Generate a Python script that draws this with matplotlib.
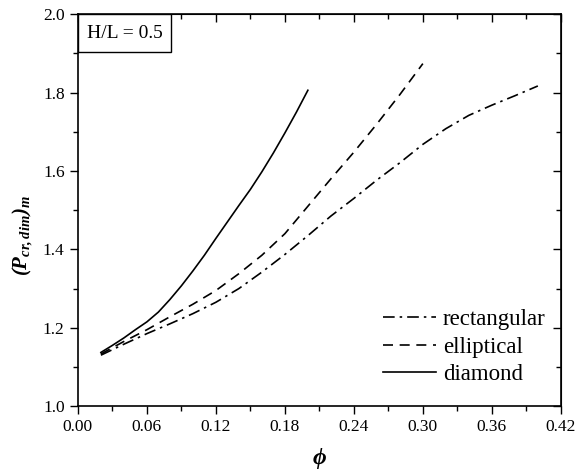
import matplotlib
matplotlib.use("Agg")
import matplotlib.pyplot as plt
from matplotlib.ticker import MultipleLocator, FormatStrFormatter
from matplotlib.patches import Rectangle

plt.rcParams['font.family'] = ['Liberation Serif', 'DejaVu Serif']
plt.rcParams['mathtext.fontset'] = 'custom'
plt.rcParams['mathtext.rm'] = 'Liberation Serif:bold:italic'
plt.rcParams['mathtext.it'] = 'Liberation Serif:bold:italic'
plt.rcParams['mathtext.bf'] = 'Liberation Serif:bold:italic'

rect_x = [0.02, 0.04, 0.06, 0.08, 0.10, 0.12, 0.14, 0.16, 0.18, 0.20,
          0.22, 0.24, 0.26, 0.28, 0.30, 0.32, 0.34, 0.36, 0.38, 0.40]
rect_y = [1.130, 1.158, 1.185, 1.210, 1.236, 1.265, 1.300, 1.342, 1.387, 1.435,
          1.485, 1.530, 1.577, 1.621, 1.668, 1.708, 1.742, 1.768, 1.792, 1.817]

ell_x = [0.02, 0.04, 0.06, 0.08, 0.10, 0.12, 0.14, 0.16, 0.18, 0.20,
         0.22, 0.24, 0.26, 0.28, 0.30]
ell_y = [1.133, 1.165, 1.195, 1.228, 1.260, 1.295, 1.338, 1.385, 1.440, 1.510,
         1.580, 1.648, 1.720, 1.795, 1.874]

dia_x = [0.02, 0.03, 0.04, 0.05, 0.06, 0.07, 0.08, 0.09, 0.10, 0.11,
         0.12, 0.13, 0.14, 0.15, 0.16, 0.17, 0.18, 0.19, 0.20]
dia_y = [1.137, 1.155, 1.174, 1.195, 1.215, 1.240, 1.272, 1.307, 1.345, 1.385,
         1.428, 1.470, 1.512, 1.553, 1.598, 1.646, 1.697, 1.750, 1.806]

labels = ['rectangular', 'elliptical', 'diamond']

fig = plt.figure(figsize=(5.77, 4.75), dpi=100)
ax = fig.add_axes([0.135, 0.145, 0.837, 0.825])

lw = 1.2
ax.plot(rect_x, rect_y, color='black', lw=lw, linestyle=(0, (7, 3, 1.5, 3)), label=labels[0])
ax.plot(ell_x, ell_y, color='black', lw=lw, linestyle=(0, (6, 4)), label=labels[1])
ax.plot(dia_x, dia_y, color='black', lw=lw, linestyle='-', label=labels[2])

ax.set_xlim(0.0, 0.42)
ax.set_ylim(1.0, 2.0)
ax.xaxis.set_major_locator(MultipleLocator(0.06))
ax.xaxis.set_minor_locator(MultipleLocator(0.03))
ax.yaxis.set_major_locator(MultipleLocator(0.2))
ax.yaxis.set_minor_locator(MultipleLocator(0.1))
ax.xaxis.set_major_formatter(FormatStrFormatter('%.2f'))
ax.yaxis.set_major_formatter(FormatStrFormatter('%.1f'))

ax.tick_params(which='both', direction='out', width=1.0, labelsize=12.5)
ax.tick_params(which='major', length=6)
ax.tick_params(which='minor', length=3.5)
for s in ax.spines.values():
    s.set_linewidth(1.2)

axr = ax.secondary_yaxis('right')
axr.yaxis.set_major_locator(MultipleLocator(0.2))
axr.yaxis.set_minor_locator(MultipleLocator(0.1))
axr.tick_params(which='both', direction='in', labelright=False, width=1.0)
axr.tick_params(which='major', length=6)
axr.tick_params(which='minor', length=3.5)
axt = ax.secondary_xaxis('top')
axt.xaxis.set_major_locator(MultipleLocator(0.06))
axt.xaxis.set_minor_locator(MultipleLocator(0.03))
axt.tick_params(which='both', direction='in', labeltop=False, width=1.0)
axt.tick_params(which='major', length=6)
axt.tick_params(which='minor', length=3.5)

ax.set_xlabel(r'$\phi$', fontsize=17, labelpad=8)
ax.set_ylabel(r'$(P_{cr,dim})_m$', fontsize=15)
ax.yaxis.set_label_coords(-0.088, 0.436)

ax.add_patch(Rectangle((0.0, 0.903), 0.193, 0.097, transform=ax.transAxes,
                       facecolor='white', edgecolor='black', lw=1.0, zorder=5))
ax.text(0.0965, 0.9515, 'H/L = 0.5', transform=ax.transAxes, fontsize=14,
        va='center', ha='center', zorder=6)

leg = ax.legend(loc='upper left', bbox_to_anchor=(0.631, 0.247), frameon=False,
                fontsize=16.5, handlelength=2.35, handletextpad=0.27, labelspacing=0.28,
                borderpad=0.0, borderaxespad=0.0)

fig.savefig('out.png', dpi=100)
